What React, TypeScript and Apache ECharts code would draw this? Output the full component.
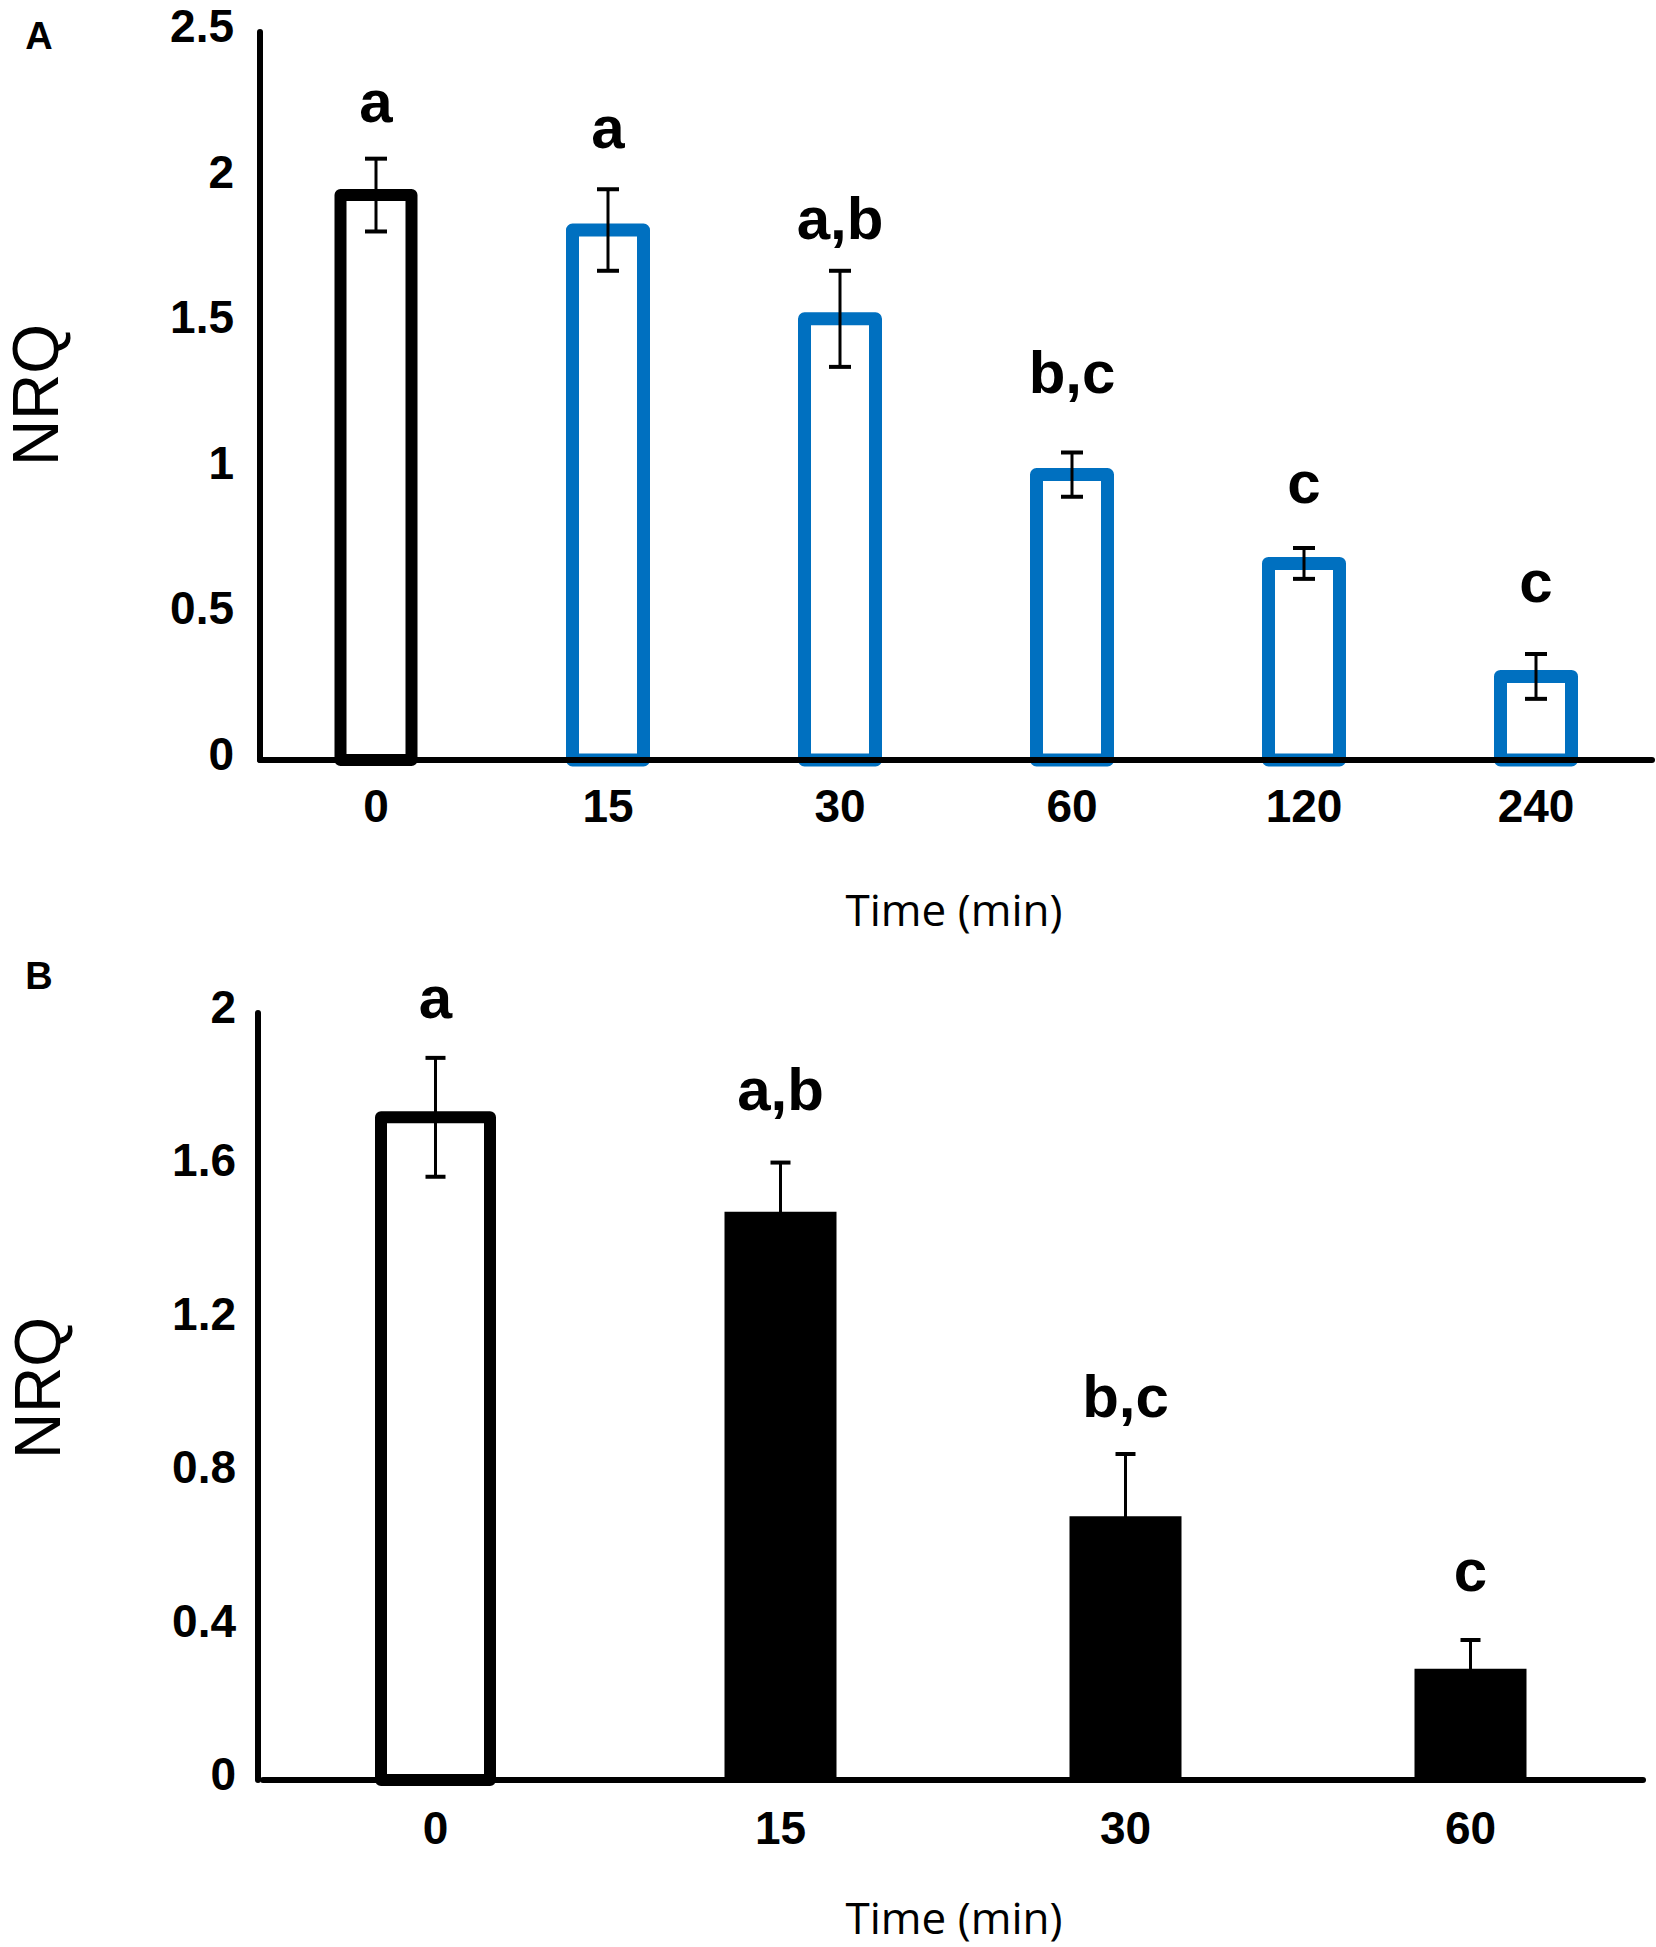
import React, { useEffect, useRef } from "react";
import * as echarts from "echarts";

// ---------- Panel A data ----------
const categoriesA = ["0", "15", "30", "60", "120", "240"];
const valuesA = [1.94, 1.82, 1.515, 0.98, 0.675, 0.287];
const errorsA = [0.125, 0.14, 0.165, 0.076, 0.053, 0.077];
const lettersA = ["a", "a", "a,b", "b,c", "c", "c"];
const letterHeightsA = [2.248, 2.16, 1.845, 1.316, 0.94, 0.598];
const yTicksA = [0, 0.5, 1, 1.5, 2, 2.5];

// ---------- Panel B data ----------
const categoriesB = ["0", "15", "30", "60"];
const valuesB = [1.728, 1.482, 0.688, 0.29];
const errorsB = [0.155, 0.128, 0.162, 0.075];
const lettersB = ["a", "a,b", "b,c", "c"];
const letterHeightsB = [2.03, 1.79, 0.99, 0.535];
const yTicksB = [0, 0.4, 0.8, 1.2, 1.6, 2];

const FONT = '"Liberation Sans", Arial, Helvetica, sans-serif';
const TITLE_FONT = '"Open Sans", "Noto Sans", sans-serif';
const BLUE = "#0070C0";

// Bars drawn with the stroke centred on the value (as in the original figure)
function barRender(width: number, styleFor: (i: number) => any) {
  return (params: any, api: any) => {
    const i = api.value(0);
    const top = api.coord([i, api.value(1)]);
    const base = api.coord([i, 0]);
    return {
      type: "rect",
      shape: { x: top[0] - width / 2, y: top[1], width, height: base[1] - top[1] },
      style: styleFor(params.dataIndex),
    };
  };
}

function errRender(capW: number, lw: number) {
  return (params: any, api: any) => {
    const i = api.value(0);
    const lo = api.coord([i, api.value(1)]);
    const hi = api.coord([i, api.value(2)]);
    const x = lo[0];
    const h = capW / 2;
    return {
      type: "group",
      children: [
        { type: "line", shape: { x1: x, y1: lo[1], x2: x, y2: hi[1] }, style: { stroke: "#000", lineWidth: lw } },
        { type: "line", shape: { x1: x - h, y1: hi[1], x2: x + h, y2: hi[1] }, style: { stroke: "#000", lineWidth: lw + 1 } },
        { type: "line", shape: { x1: x - h, y1: lo[1], x2: x + h, y2: lo[1] }, style: { stroke: "#000", lineWidth: lw + 1 } },
      ],
    };
  };
}

function letterRender(letters: string[]) {
  return (params: any, api: any) => {
    const p = api.coord([api.value(0), api.value(1)]);
    return {
      type: "text",
      x: p[0],
      y: p[1] - 4,
      style: {
        text: letters[params.dataIndex],
        fill: "#000",
        font: `bold 60px ${FONT}`,
        align: "center",
        verticalAlign: "middle",
      },
    };
  };
}

function yAxisCfg(gridIndex: number, ticks: number[], margin: number, offset: number) {
  return {
    gridIndex,
    type: "value",
    min: ticks[0],
    max: ticks[ticks.length - 1],
    interval: ticks[1] - ticks[0],
    offset,
    axisLine: { show: true, lineStyle: { color: "#000", width: 6 } },
    axisTick: { show: false },
    splitLine: { show: false },
    axisLabel: {
      color: "#000",
      fontFamily: FONT,
      fontWeight: "bold",
      fontSize: 46,
      margin,
      verticalAlign: "bottom",
      lineHeight: 12,
    },
  };
}

function xAxisCfg(gridIndex: number, cats: string[], margin: number) {
  return {
    gridIndex,
    type: "category",
    data: cats,
    z: 5,
    axisTick: { show: false },
    axisLine: { show: true, lineStyle: { color: "#000", width: 6 } },
    axisLabel: {
      color: "#000",
      fontFamily: FONT,
      fontWeight: "bold",
      fontSize: 46,
      margin,
      interval: 0,
    },
  };
}

export default function App() {
  const ref = useRef<HTMLDivElement>(null);

  useEffect(() => {
    document.body.style.margin = "0";
    if (!ref.current) return;
    const chart = echarts.init(ref.current, null, { renderer: "svg" });

    const option: any = {
      animation: false,
      backgroundColor: "#fff",
      grid: [
        { left: 260, top: 32, width: 1392, height: 728, outerBoundsMode: "none" },
        { left: 263, top: 1013, width: 1380, height: 767, outerBoundsMode: "none" },
      ],
      xAxis: [xAxisCfg(0, categoriesA, 23), xAxisCfg(1, categoriesB, 25)],
      yAxis: [yAxisCfg(0, yTicksA, 26, 0), yAxisCfg(1, yTicksB, 22, 5)],
      series: [
        {
          type: "custom",
          name: "NRQ A",
          xAxisIndex: 0,
          yAxisIndex: 0,
          z: 2,
          data: valuesA.map((v, i) => [i, v]),
          renderItem: barRender(71, (i) => ({
            fill: "#fff",
            stroke: i === 0 ? "#000" : BLUE,
            lineWidth: i === 0 ? 12 : 13,
            lineJoin: "round",
          })),
        },
        {
          type: "custom",
          xAxisIndex: 0,
          yAxisIndex: 0,
          z: 10,
          data: valuesA.map((v, i) => [i, v - errorsA[i], v + errorsA[i]]),
          renderItem: errRender(22, 3),
        },
        {
          type: "custom",
          xAxisIndex: 0,
          yAxisIndex: 0,
          z: 10,
          data: letterHeightsA.map((h, i) => [i, h]),
          renderItem: letterRender(lettersA),
        },
        {
          type: "custom",
          name: "NRQ B",
          xAxisIndex: 1,
          yAxisIndex: 1,
          z: 2,
          data: valuesB.map((v, i) => [i, v]),
          renderItem: (params: any, api: any) => {
            const i = params.dataIndex;
            const w = i === 0 ? 109 : 112;
            return barRender(w, (k) =>
              k === 0
                ? { fill: "#fff", stroke: "#000", lineWidth: 12, lineJoin: "round" }
                : { fill: "#000", lineWidth: 0 }
            )(params, api);
          },
        },
        {
          type: "custom",
          xAxisIndex: 1,
          yAxisIndex: 1,
          z: 10,
          data: valuesB.map((v, i) => [i, v - errorsB[i], v + errorsB[i]]),
          renderItem: errRender(20, 3),
        },
        {
          type: "custom",
          xAxisIndex: 1,
          yAxisIndex: 1,
          z: 10,
          data: letterHeightsB.map((h, i) => [i, h]),
          renderItem: letterRender(lettersB),
        },
      ],
      graphic: [
        { type: "text", x: 39, y: 36, style: { text: "A", fill: "#000", font: `bold 38px ${FONT}`, align: "center", verticalAlign: "middle" } },
        { type: "text", x: 39, y: 976, style: { text: "B", fill: "#000", font: `bold 38px ${FONT}`, align: "center", verticalAlign: "middle" } },
        { type: "text", x: 36, y: 395, rotation: Math.PI / 2, style: { text: "NRQ", fill: "#000", font: `64px ${FONT}`, lineHeight: 60, align: "center", verticalAlign: "middle" } },
        { type: "text", x: 38, y: 1388, rotation: Math.PI / 2, style: { text: "NRQ", fill: "#000", font: `64px ${FONT}`, lineHeight: 60, align: "center", verticalAlign: "middle" } },
        { type: "text", x: 954, y: 909, style: { text: "Time (min)", fill: "#000", font: `44px ${TITLE_FONT}`, align: "center", verticalAlign: "middle" } },
        { type: "text", x: 954, y: 1917, style: { text: "Time (min)", fill: "#000", font: `44px ${TITLE_FONT}`, lineHeight: 50, align: "center", verticalAlign: "middle" } },
      ],
    };

    chart.setOption(option);
    return () => chart.dispose();
  }, []);

  return <div ref={ref} style={{ width: 1656, height: 1947 }} />;
}
